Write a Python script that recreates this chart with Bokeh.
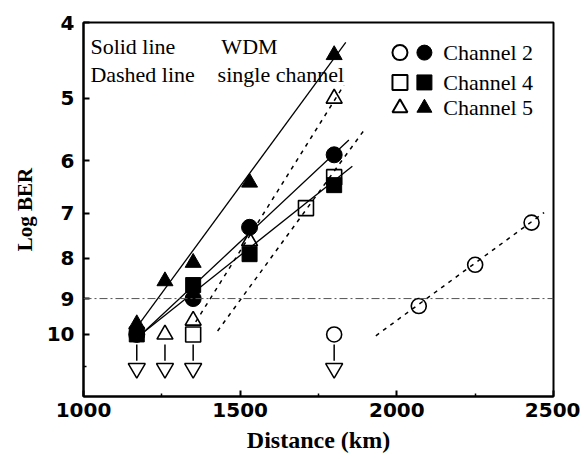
from bokeh.plotting import figure
from bokeh.models import Range1d, FixedTicker, PrintfTickFormatter, Label, Span
from bokeh.embed import file_html
from bokeh.resources import INLINE

# ---------------- data ----------------
# WDM (solid line, filled markers)
ch2_wdm_x = [1170, 1350, 1530, 1800]
ch2_wdm_y = [10.0, 9.0, 7.3, 5.9]
ch4_wdm_x = [1170, 1350, 1530, 1800]
ch4_wdm_y = [10.0, 8.65, 7.9, 6.45]
ch5_wdm_x = [1170, 1260, 1350, 1530, 1800]
ch5_wdm_y = [9.7, 8.55, 8.1, 6.4, 4.4]

# single channel (dashed line, open markers)
ch2_single_x = [1800, 2070, 2250, 2430]
ch2_single_y = [10.0, 9.2, 8.15, 7.2]
ch4_single_x = [1350, 1710, 1800]
ch4_single_y = [10.0, 6.9, 6.3]
ch5_single_x = [1260, 1350, 1530, 1800]
ch5_single_y = [10.0, 9.6, 7.6, 5.0]

# fitted lines (end points)
fit_ch5_wdm_x = [1165, 1837]
fit_ch5_wdm_y = [9.85, 4.24]
fit_ch2_wdm_x = [1190, 1847]
fit_ch2_wdm_y = [9.95, 5.65]
fit_ch4_wdm_x = [1190, 1858]
fit_ch4_wdm_y = [9.95, 6.1]
fit_ch5_single_x = [1358, 1831]
fit_ch5_single_y = [9.64, 4.81]
fit_ch4_single_x = [1428, 1901]
fit_ch4_single_y = [9.9, 5.45]
fit_ch2_single_x = [1933, 2470]
fit_ch2_single_y = [10.04, 6.99]

# error-free points (arrows pointing down)
arrow_x = [1170, 1260, 1350, 1800]
arrow_from_y = [10.3, 10.3, 10.3, 10.3]
arrow_to_y = [10.8, 10.8, 10.8, 10.8]
arrow_tip_y = [11.05, 11.05, 11.05, 11.05]

ber_threshold = 9.0

x_ticks = [1000, 1500, 2000, 2500]
x_minor = [1250, 1750, 2250]
y_ticks = [4, 5, 6, 7, 8, 9, 10]
y_minor = [11]

legend_labels = ["Channel 2", "Channel 4", "Channel 5"]
legend_markers = ["circle", "square", "triangle"]

# ---------------- figure ----------------
p = figure(width=580, height=455,
           x_range=Range1d(1000, 2500), y_range=Range1d(12, 4),
           y_axis_type="log",
           output_backend="svg", toolbar_location=None,
           min_border_left=83, min_border_right=27,
           min_border_top=22, min_border_bottom=57)
p.background_fill_color = "white"
p.border_fill_color = "white"
p.xgrid.visible = False
p.ygrid.visible = False
p.outline_line_color = "black"
p.outline_line_width = 2
p.outline_line_alpha = 1

p.xaxis.ticker = FixedTicker(ticks=x_ticks, minor_ticks=x_minor)
p.yaxis.ticker = FixedTicker(ticks=y_ticks, minor_ticks=y_minor)
p.yaxis.formatter = PrintfTickFormatter(format="%d")

for ax in (p.xaxis[0], p.yaxis[0]):
    ax.axis_line_width = 2
    ax.axis_line_color = "black"
    ax.major_tick_in = 6
    ax.major_tick_out = 0
    ax.minor_tick_in = 3
    ax.minor_tick_out = 0
    ax.major_tick_line_width = 2
    ax.minor_tick_line_width = 1.5
    ax.major_label_text_font = "DejaVu Sans"
    ax.major_label_text_font_style = "bold"
    ax.major_label_text_font_size = "20px"
    ax.major_label_text_color = "black"
    ax.axis_label_text_font = "Liberation Serif"
    ax.axis_label_text_font_style = "bold"
    ax.axis_label_text_color = "black"

p.xaxis.axis_label = "Distance (km)"
p.xaxis.axis_label_text_font_size = "24px"
p.xaxis.major_label_standoff = 6
p.xaxis.axis_label_standoff = 7
p.yaxis.axis_label = "Log BER"
p.yaxis.axis_label_text_font_size = "21px"
p.yaxis.major_label_standoff = 9
p.yaxis.axis_label_standoff = 7

# BER threshold line
p.add_layout(Span(location=ber_threshold, dimension="width", line_color="#555555",
                  line_width=1, line_dash="8 3 2 3"))

# fitted lines
for xs, ys in [(fit_ch5_wdm_x, fit_ch5_wdm_y), (fit_ch2_wdm_x, fit_ch2_wdm_y),
               (fit_ch4_wdm_x, fit_ch4_wdm_y)]:
    p.line(xs, ys, line_color="black", line_width=1.3)
for xs, ys in [(fit_ch5_single_x, fit_ch5_single_y), (fit_ch4_single_x, fit_ch4_single_y),
               (fit_ch2_single_x, fit_ch2_single_y)]:
    p.line(xs, ys, line_color="black", line_width=1.5, line_dash="4 5")

# arrows
p.segment(x0=arrow_x, y0=arrow_from_y, x1=arrow_x, y1=arrow_to_y,
          line_color="black", line_width=1.5)
p.scatter(arrow_x, arrow_tip_y, marker="inverted_triangle", size=17,
          fill_alpha=0, line_color="black", line_width=1.5)

# open markers (single channel)
p.scatter(ch2_single_x, ch2_single_y, marker="circle", size=15,
          fill_alpha=0, line_color="black", line_width=1.6)
p.scatter(ch4_single_x, ch4_single_y, marker="square", size=15,
          fill_alpha=0, line_color="black", line_width=1.6)
p.scatter(ch5_single_x, ch5_single_y, marker="triangle", size=16,
          fill_alpha=0, line_color="black", line_width=1.6)

# filled markers (WDM)
p.scatter(ch2_wdm_x, ch2_wdm_y, marker="circle", size=16,
          fill_color="black", line_color="black")
p.scatter(ch4_wdm_x, ch4_wdm_y, marker="square", size=15,
          fill_color="black", line_color="black")
p.scatter(ch5_wdm_x, ch5_wdm_y, marker="triangle", size=16,
          fill_color="black", line_color="black")

# legend (drawn by hand: open + filled marker, then text)
leg_y = [4.37, 4.77, 5.14]
for lab, mk, ly in zip(legend_labels, legend_markers, leg_y):
    p.scatter([2010], [ly], marker=mk, size=15, fill_alpha=0,
              line_color="black", line_width=2)
    p.scatter([2088], [ly], marker=mk, size=15, fill_color="black",
              line_color="black")
    p.add_layout(Label(x=2148, y=ly, text=lab, text_font="Liberation Serif",
                       text_font_size="22px", text_baseline="middle",
                       text_color="black"))

# annotation texts
for tx, ty, t in [(1022, 4.29, "Solid line"), (1022, 4.66, "Dashed line"),
                  (1440, 4.29, "WDM"), (1428, 4.66, "single channel")]:
    p.add_layout(Label(x=tx, y=ty, text=t, text_font="Liberation Serif",
                       text_font_size="22px", text_baseline="middle",
                       text_color="black"))

open("out.html", "w").write(file_html(p, INLINE))
